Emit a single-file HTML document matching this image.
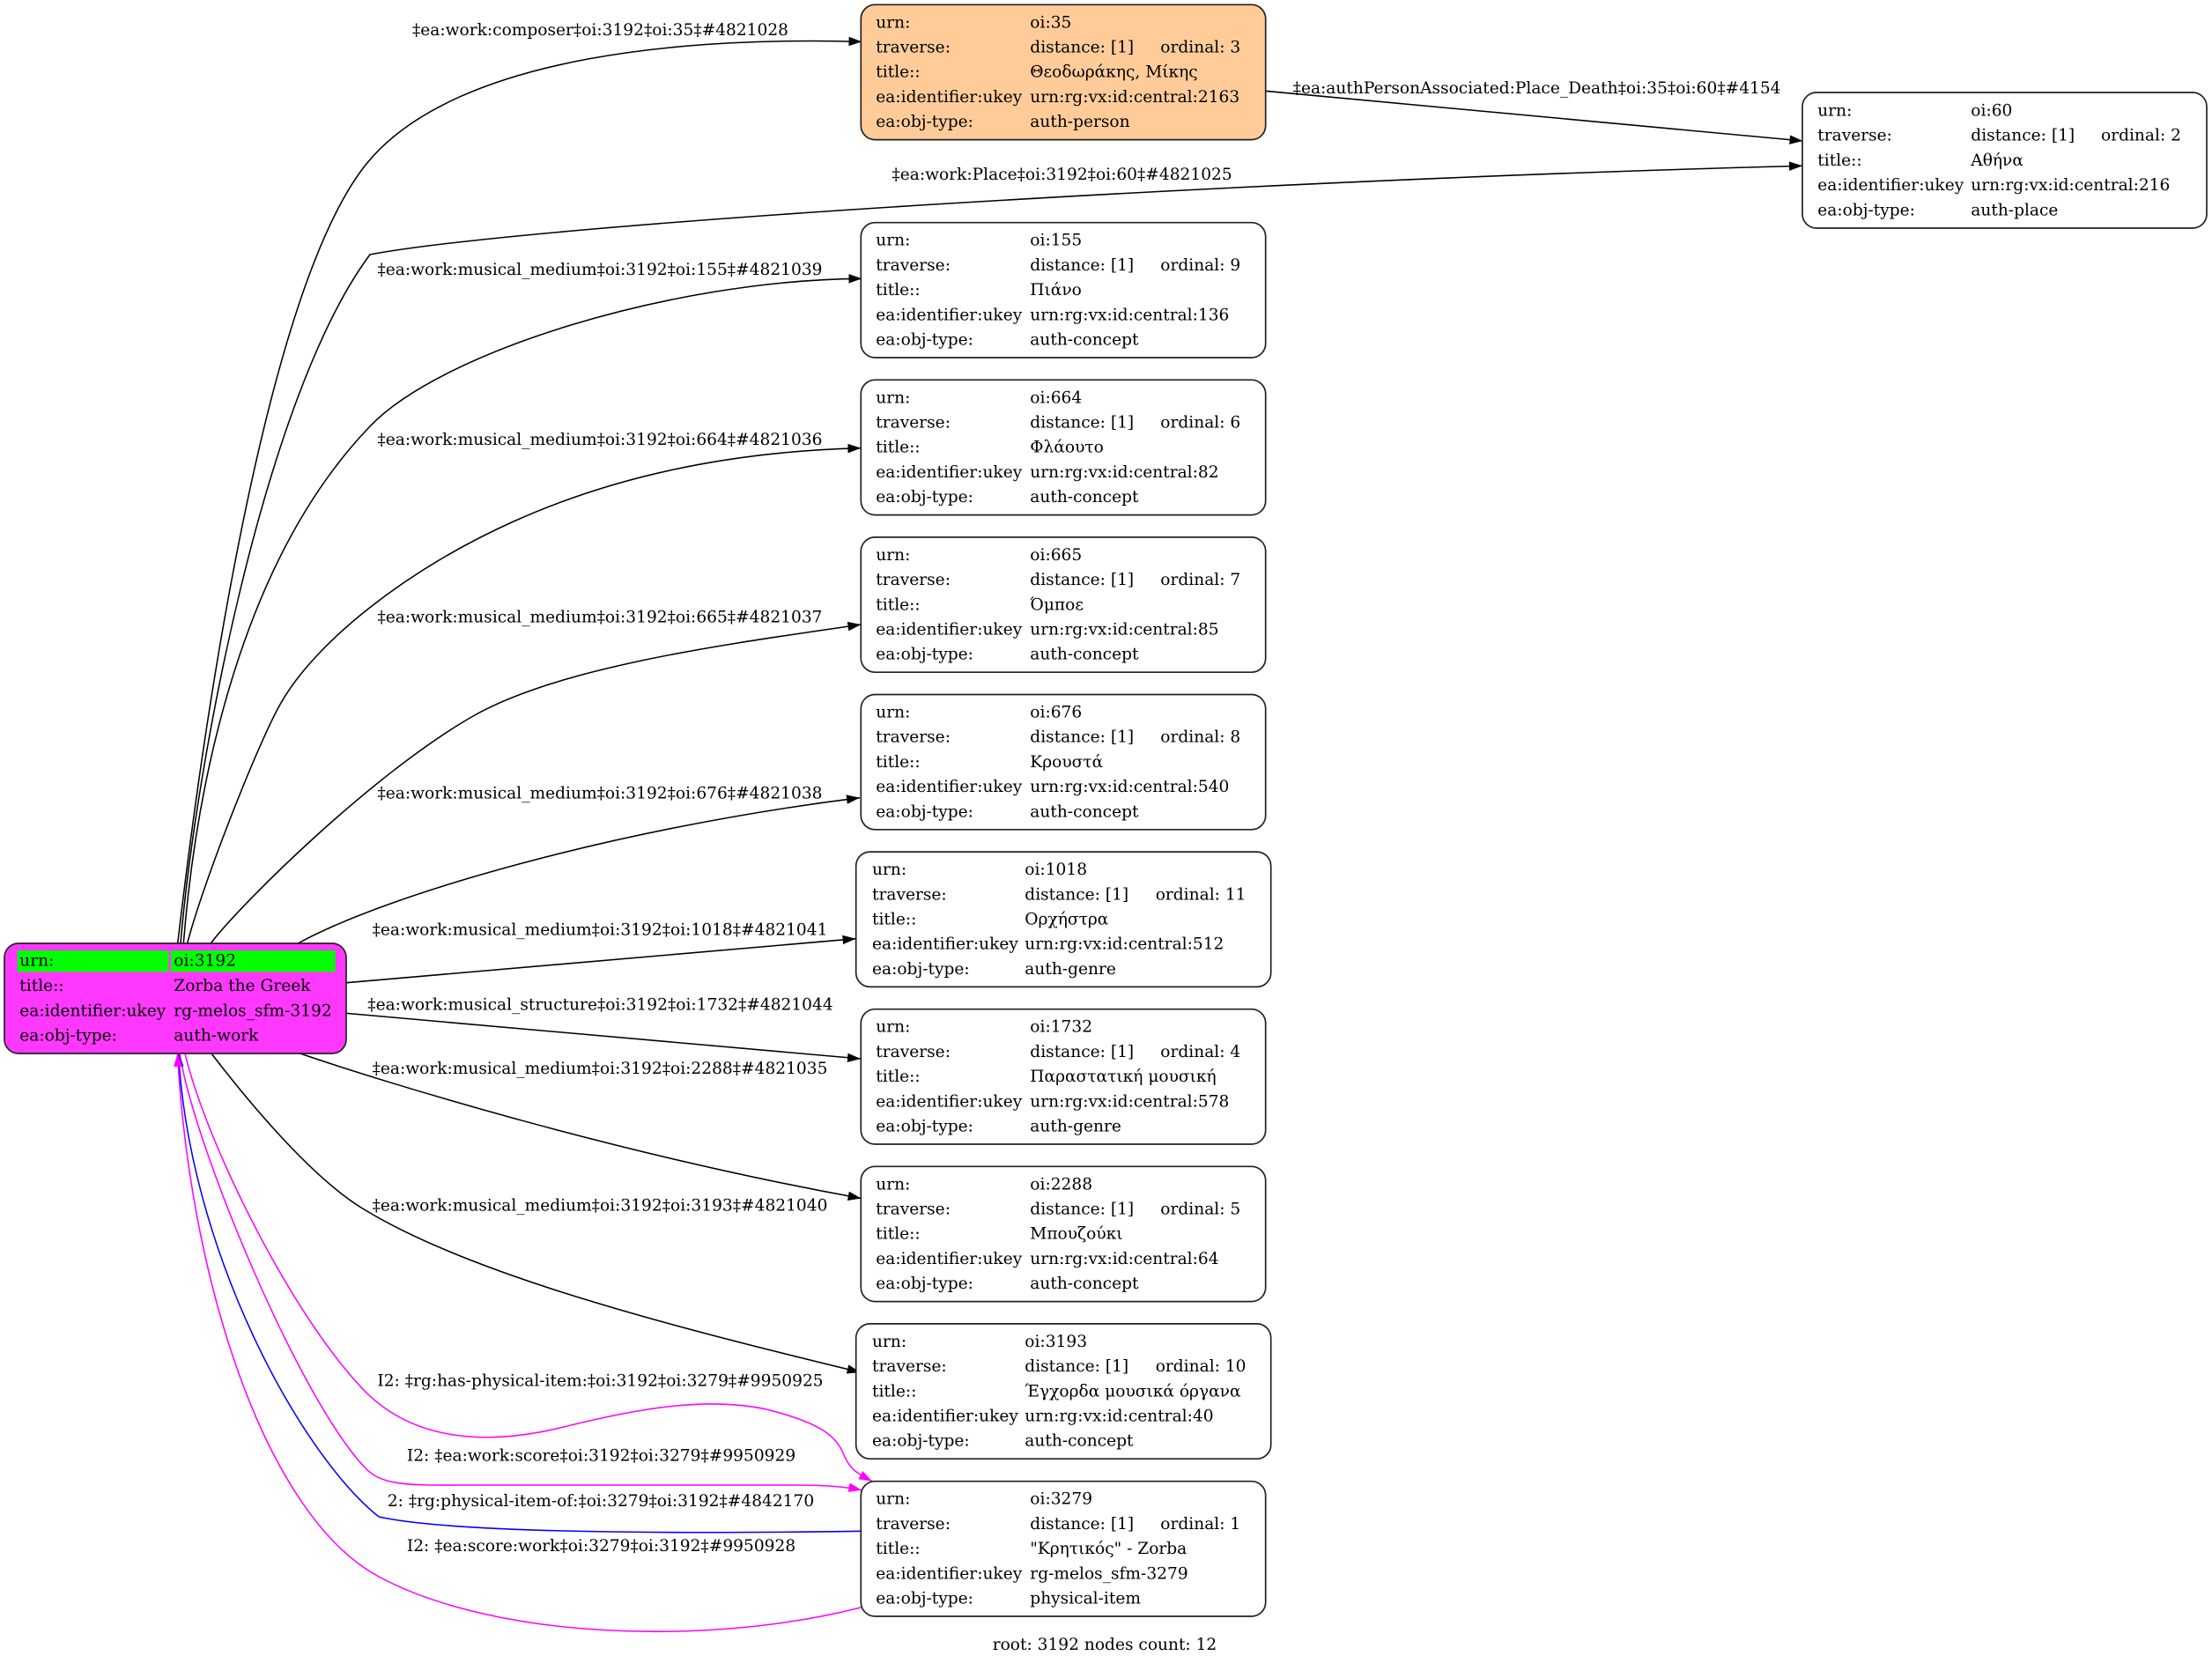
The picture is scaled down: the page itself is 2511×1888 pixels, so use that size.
<!DOCTYPE html>
<html>
<head>
<meta charset="utf-8">
<style>
  html, body { margin:0; padding:0; background:#fff; }
  svg { display:block; }
  text { font-family: "DejaVu Serif", "Liberation Serif", "Noto Serif CJK SC", serif; font-size:18.6px; fill:#000; }
  .lbl { text-anchor: middle; }
  .edge { fill:none; stroke:#000; stroke-width:1.55; }
  .mag { fill:none; stroke:#ff00ff; stroke-width:1.55; }
  .blu { fill:none; stroke:#0000ff; stroke-width:1.55; }
  .box { fill:#fff; stroke:#222; stroke-width:1.7; }
</style>
</head>
<body>
<svg width="2511" height="1888" viewBox="0 0 2511 1888" xmlns="http://www.w3.org/2000/svg">
  <defs>
    <marker id="ab" markerUnits="userSpaceOnUse" markerWidth="16" markerHeight="12" refX="15" refY="5.25" orient="auto">
      <path d="M0,0 L15,5.25 L0,10.5 z" fill="#000"/>
    </marker>
    <marker id="am" markerUnits="userSpaceOnUse" markerWidth="16" markerHeight="12" refX="15" refY="5.25" orient="auto">
      <path d="M0,0 L15,5.25 L0,10.5 z" fill="#ff00ff"/>
    </marker>
    <marker id="abl" markerUnits="userSpaceOnUse" markerWidth="16" markerHeight="12" refX="15" refY="5.25" orient="auto">
      <path d="M0,0 L15,5.25 L0,10.5 z" fill="#0000ff"/>
    </marker>
  </defs>

  <!-- ================= EDGES ================= -->
  <path class="edge" marker-end="url(#ab)" d="M201.7,1071 C230,830 300,330 416,186 C520,58 800,42 978.5,47.4"/>
  <path class="edge" marker-end="url(#ab)" d="M205,1071 C222,870 300,450 420,289 C600,255 1400,205 2046,188.3"/>
  <path class="edge" marker-end="url(#ab)" d="M1436.3,103.3 L2046.5,160"/>
  <path class="edge" marker-end="url(#ab)" d="M208.3,1071 C222,900 270,640 420,484 C500,400 760,318 978.5,316.3"/>
  <path class="edge" marker-end="url(#ab)" d="M212.7,1071 C228,1010 290,850 317.8,800 C358,728 463,646 583,592 C713,533.5 850,512 977.4,508.7"/>
  <path class="edge" marker-end="url(#ab)" d="M239.3,1071 C270,1030 420,880 537,813 C637,756 827,731 977.4,709"/>
  <path class="edge" marker-end="url(#ab)" d="M338.3,1071 C440,1015 700,940 976,905.7"/>
  <path class="edge" marker-end="url(#ab)" d="M393.3,1115.7 C600,1097 800,1080 971.5,1065.7"/>
  <path class="edge" marker-end="url(#ab)" d="M393.3,1150.4 C600,1170 800,1188 977,1202"/>
  <path class="edge" marker-end="url(#ab)" d="M340.7,1196 C440,1230 700,1310 977.6,1360.5"/>
  <path class="edge" marker-end="url(#ab)" d="M240,1196 C270,1235 346,1331 410,1371 C540,1452 796.6,1514 976.6,1558"/>
  <path class="mag" marker-end="url(#am)" d="M210,1196 C235,1300 330,1490 410,1575 C470,1640 560,1640 640,1620 C720,1600 800,1585 870,1600 C930,1615 950,1630 958,1652 C965,1668 972,1672 990,1681.7"/>
  <path class="mag" marker-end="url(#am)" d="M204,1196 C220,1300 340,1590 416,1668 C436,1688 470,1686 540,1686 L900,1686 C940,1686 960,1688 978.3,1691.7"/>
  <path class="blu" marker-end="url(#abl)" d="M977.3,1738.3 C800,1741 520,1742 430,1722 C340,1650 215,1420 202.6,1196"/>
  <path class="mag" marker-end="url(#am)" d="M977.3,1825 C800,1870 560,1860 430,1790 C300,1720 215,1450 201.5,1196"/>

  <!-- ================= EDGE LABELS ================= -->
  <text class="lbl" x="681.5" y="40">‡ea:work:composer‡oi:3192‡oi:35‡#4821028</text>
  <text class="lbl" x="1205.6" y="204">‡ea:work:Place‡oi:3192‡oi:60‡#4821025</text>
  <text class="lbl" x="1744.6" y="106">‡ea:authPersonAssociated:Place_Death‡oi:35‡oi:60‡#4154</text>
  <text class="lbl" x="681" y="312">‡ea:work:musical_medium‡oi:3192‡oi:155‡#4821039</text>
  <text class="lbl" x="681" y="505">‡ea:work:musical_medium‡oi:3192‡oi:664‡#4821036</text>
  <text class="lbl" x="681" y="706.5">‡ea:work:musical_medium‡oi:3192‡oi:665‡#4821037</text>
  <text class="lbl" x="681" y="906.4">‡ea:work:musical_medium‡oi:3192‡oi:676‡#4821038</text>
  <text class="lbl" x="681" y="1061.7">‡ea:work:musical_medium‡oi:3192‡oi:1018‡#4821041</text>
  <text class="lbl" x="681.5" y="1146.7">‡ea:work:musical_structure‡oi:3192‡oi:1732‡#4821044</text>
  <text class="lbl" x="681" y="1219">‡ea:work:musical_medium‡oi:3192‡oi:2288‡#4821035</text>
  <text class="lbl" x="681" y="1374.6">‡ea:work:musical_medium‡oi:3192‡oi:3193‡#4821040</text>
  <text class="lbl" x="681.5" y="1573.7">I2: ‡rg:has-physical-item:‡oi:3192‡oi:3279‡#9950925</text>
  <text class="lbl" x="682.5" y="1658.7">I2: ‡ea:work:score‡oi:3192‡oi:3279‡#9950929</text>
  <text class="lbl" x="682" y="1710">2: ‡rg:physical-item-of:‡oi:3279‡oi:3192‡#4842170</text>
  <text class="lbl" x="682.5" y="1761">I2: ‡ea:score:work‡oi:3279‡oi:3192‡#9950928</text>

  <!-- ================= ROOT NODE ================= -->
  <g transform="translate(5,1071)">
    <rect x="0" y="0" width="388" height="125" rx="16" fill="#ff38ff" stroke="#222" stroke-width="1.7"/>
    <rect x="14.7" y="8" width="171.6" height="24.3" fill="#00ff00"/>
    <rect x="189" y="8" width="186.7" height="24.3" fill="#00ff00"/>
    <text x="17.3" y="25.7">urn:</text><text x="192.3" y="25.7">oi:3192</text>
    <text x="17.3" y="54">title::</text><text x="192.3" y="54">Zorba the Greek</text>
    <text x="17.3" y="82.3">ea:identifier:ukey</text><text x="192.3" y="82.3">rg-melos_sfm-3192</text>
    <text x="17.3" y="110.6">ea:obj-type:</text><text x="192.3" y="110.6">auth-work</text>
  </g>

  <!-- ================= oi:35 ================= -->
  <g transform="translate(977.3,5.3)">
    <rect x="0" y="0" width="459.4" height="153.3" rx="16" fill="#ffcc99" stroke="#222" stroke-width="1.7"/>
    <text x="17" y="26">urn:</text><text x="192" y="26">oi:35</text>
    <text x="17" y="54.2">traverse:</text><text x="192" y="54.2">distance: [1]</text><text x="340" y="54.2">ordinal: 3</text>
    <text x="17" y="82.4">title::</text><text x="192" y="82.4">Θεοδωράκης, Μίκης</text>
    <text x="17" y="110.6">ea:identifier:ukey</text><text x="192" y="110.6">urn:rg:vx:id:central:2163</text>
    <text x="17" y="138.8">ea:obj-type:</text><text x="192" y="138.8">auth-person</text>
  </g>

  <!-- ================= oi:60 ================= -->
  <g transform="translate(2046,105)">
    <rect class="box" x="0" y="0" width="459" height="154" rx="16"/>
    <text x="17.3" y="26.5">urn:</text><text x="191.3" y="26.5">oi:60</text>
    <text x="17.3" y="54.7">traverse:</text><text x="191.3" y="54.7">distance: [1]</text><text x="339" y="54.7">ordinal: 2</text>
    <text x="17.3" y="82.9">title::</text><text x="191.3" y="82.9">Αθήνα</text>
    <text x="17.3" y="111.1">ea:identifier:ukey</text><text x="191.3" y="111.1">urn:rg:vx:id:central:216</text>
    <text x="17.3" y="139.3">ea:obj-type:</text><text x="191.3" y="139.3">auth-place</text>
  </g>

  <!-- ================= oi:155 ================= -->
  <g transform="translate(977.3,252.7)">
    <rect class="box" x="0" y="0" width="459.4" height="153.3" rx="16"/>
    <text x="17" y="26">urn:</text><text x="192" y="26">oi:155</text>
    <text x="17" y="54.2">traverse:</text><text x="192" y="54.2">distance: [1]</text><text x="340" y="54.2">ordinal: 9</text>
    <text x="17" y="82.4">title::</text><text x="192" y="82.4">Πιάνο</text>
    <text x="17" y="110.6">ea:identifier:ukey</text><text x="192" y="110.6">urn:rg:vx:id:central:136</text>
    <text x="17" y="138.8">ea:obj-type:</text><text x="192" y="138.8">auth-concept</text>
  </g>

  <!-- ================= oi:664 ================= -->
  <g transform="translate(977.3,431.3)">
    <rect class="box" x="0" y="0" width="459.4" height="153.3" rx="16"/>
    <text x="17" y="26">urn:</text><text x="192" y="26">oi:664</text>
    <text x="17" y="54.2">traverse:</text><text x="192" y="54.2">distance: [1]</text><text x="340" y="54.2">ordinal: 6</text>
    <text x="17" y="82.4">title::</text><text x="192" y="82.4">Φλάουτο</text>
    <text x="17" y="110.6">ea:identifier:ukey</text><text x="192" y="110.6">urn:rg:vx:id:central:82</text>
    <text x="17" y="138.8">ea:obj-type:</text><text x="192" y="138.8">auth-concept</text>
  </g>

  <!-- ================= oi:665 ================= -->
  <g transform="translate(977.3,609.9)">
    <rect class="box" x="0" y="0" width="459.4" height="153.3" rx="16"/>
    <text x="17" y="26">urn:</text><text x="192" y="26">oi:665</text>
    <text x="17" y="54.2">traverse:</text><text x="192" y="54.2">distance: [1]</text><text x="340" y="54.2">ordinal: 7</text>
    <text x="17" y="82.4">title::</text><text x="192" y="82.4">Όμποε</text>
    <text x="17" y="110.6">ea:identifier:ukey</text><text x="192" y="110.6">urn:rg:vx:id:central:85</text>
    <text x="17" y="138.8">ea:obj-type:</text><text x="192" y="138.8">auth-concept</text>
  </g>

  <!-- ================= oi:676 ================= -->
  <g transform="translate(977.3,788.5)">
    <rect class="box" x="0" y="0" width="459.4" height="153.3" rx="16"/>
    <text x="17" y="26">urn:</text><text x="192" y="26">oi:676</text>
    <text x="17" y="54.2">traverse:</text><text x="192" y="54.2">distance: [1]</text><text x="340" y="54.2">ordinal: 8</text>
    <text x="17" y="82.4">title::</text><text x="192" y="82.4">Κρουστά</text>
    <text x="17" y="110.6">ea:identifier:ukey</text><text x="192" y="110.6">urn:rg:vx:id:central:540</text>
    <text x="17" y="138.8">ea:obj-type:</text><text x="192" y="138.8">auth-concept</text>
  </g>

  <!-- ================= oi:1018 (wide) ================= -->
  <g transform="translate(971.7,967.1)">
    <rect class="box" x="0" y="0" width="471" height="153.3" rx="16"/>
    <text x="18.3" y="26">urn:</text><text x="191.6" y="26">oi:1018</text>
    <text x="18.3" y="54.2">traverse:</text><text x="191.6" y="54.2">distance: [1]</text><text x="340" y="54.2">ordinal: 11</text>
    <text x="18.3" y="82.4">title::</text><text x="191.6" y="82.4">Ορχήστρα</text>
    <text x="18.3" y="110.6">ea:identifier:ukey</text><text x="191.6" y="110.6">urn:rg:vx:id:central:512</text>
    <text x="18.3" y="138.8">ea:obj-type:</text><text x="191.6" y="138.8">auth-genre</text>
  </g>

  <!-- ================= oi:1732 ================= -->
  <g transform="translate(977.3,1145.7)">
    <rect class="box" x="0" y="0" width="459.4" height="153.3" rx="16"/>
    <text x="17" y="26">urn:</text><text x="192" y="26">oi:1732</text>
    <text x="17" y="54.2">traverse:</text><text x="192" y="54.2">distance: [1]</text><text x="340" y="54.2">ordinal: 4</text>
    <text x="17" y="82.4">title::</text><text x="192" y="82.4">Παραστατική μουσική</text>
    <text x="17" y="110.6">ea:identifier:ukey</text><text x="192" y="110.6">urn:rg:vx:id:central:578</text>
    <text x="17" y="138.8">ea:obj-type:</text><text x="192" y="138.8">auth-genre</text>
  </g>

  <!-- ================= oi:2288 ================= -->
  <g transform="translate(977.3,1324.3)">
    <rect class="box" x="0" y="0" width="459.4" height="153.3" rx="16"/>
    <text x="17" y="26">urn:</text><text x="192" y="26">oi:2288</text>
    <text x="17" y="54.2">traverse:</text><text x="192" y="54.2">distance: [1]</text><text x="340" y="54.2">ordinal: 5</text>
    <text x="17" y="82.4">title::</text><text x="192" y="82.4">Μπουζούκι</text>
    <text x="17" y="110.6">ea:identifier:ukey</text><text x="192" y="110.6">urn:rg:vx:id:central:64</text>
    <text x="17" y="138.8">ea:obj-type:</text><text x="192" y="138.8">auth-concept</text>
  </g>

  <!-- ================= oi:3193 (wide) ================= -->
  <g transform="translate(971.7,1502.9)">
    <rect class="box" x="0" y="0" width="471" height="153.3" rx="16"/>
    <text x="18.3" y="26">urn:</text><text x="191.6" y="26">oi:3193</text>
    <text x="18.3" y="54.2">traverse:</text><text x="191.6" y="54.2">distance: [1]</text><text x="340" y="54.2">ordinal: 10</text>
    <text x="18.3" y="82.4">title::</text><text x="191.6" y="82.4">Έγχορδα μουσικά όργανα</text>
    <text x="18.3" y="110.6">ea:identifier:ukey</text><text x="191.6" y="110.6">urn:rg:vx:id:central:40</text>
    <text x="18.3" y="138.8">ea:obj-type:</text><text x="191.6" y="138.8">auth-concept</text>
  </g>

  <!-- ================= oi:3279 ================= -->
  <g transform="translate(977.3,1681.7)">
    <rect class="box" x="0" y="0" width="459.4" height="153.3" rx="16"/>
    <text x="17" y="26">urn:</text><text x="192" y="26">oi:3279</text>
    <text x="17" y="54.2">traverse:</text><text x="192" y="54.2">distance: [1]</text><text x="340" y="54.2">ordinal: 1</text>
    <text x="17" y="82.4">title::</text><text x="192" y="82.4">"Κρητικός" - Zorba</text>
    <text x="17" y="110.6">ea:identifier:ukey</text><text x="192" y="110.6">rg-melos_sfm-3279</text>
    <text x="17" y="138.8">ea:obj-type:</text><text x="192" y="138.8">physical-item</text>
  </g>

  <!-- footer -->
  <text class="lbl" x="1254" y="1873">root: 3192 nodes count: 12</text>
</svg>
</body>
</html>
